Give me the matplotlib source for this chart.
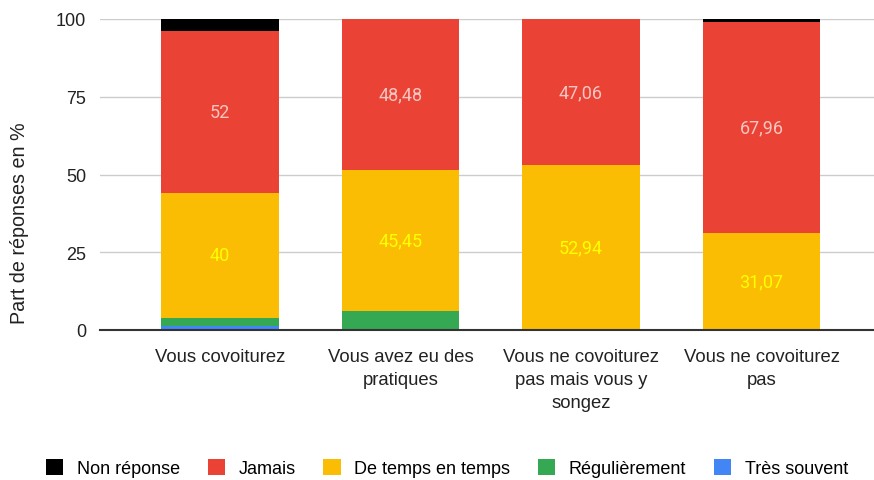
import matplotlib
matplotlib.use("Agg")
import matplotlib.pyplot as plt
from matplotlib.patches import Patch
import numpy as np

categories = ["Vous covoiturez", "Vous avez eu des\npratiques",
              "Vous ne covoiturez\npas mais vous y\nsongez", "Vous ne covoiturez\npas"]
series_names = ["Très souvent", "Régulièrement", "De temps en temps", "Jamais", "Non réponse"]
tres_souvent = [1.33, 0, 0, 0]
regulierement = [2.67, 6.06, 0, 0]
de_temps = [40, 45.45, 52.94, 31.07]
jamais = [52, 48.48, 47.06, 67.96]
non_reponse = [4, 0, 0, 0.97]
yticks = [0, 25, 50, 75, 100]

colors = ["#4285f4", "#34a853", "#fbbc04", "#ea4335", "#000000"]
label_colors = {2: "#ffff00", 3: "#f7c6c2"}
series = [tres_souvent, regulierement, de_temps, jamais, non_reponse]

fig = plt.figure(figsize=(8.74, 4.81), dpi=100)
W, H = 874, 481
ax = fig.add_axes([100 / W, (H - 331) / H, 774 / W, 311 / H])

x = np.arange(len(categories))
bottom = np.zeros(len(categories))
for i, (vals, c) in enumerate(zip(series, colors)):
    vals = np.array(vals, dtype=float)
    ax.bar(x, vals, bottom=bottom, width=0.65, color=c, zorder=3)
    if i in label_colors:
        for xi, b, v in zip(x, bottom, vals):
            if v > 0:
                ax.text(xi, b + v / 2, f"{v:g}".replace(".", ","), ha="center", va="center",
                        color=label_colors[i], fontsize=13, family="Roboto", zorder=4)
    bottom += vals

ax.set_xlim(-0.665, 3.623)
ax.set_ylim(0, 100)
ax.set_yticks(yticks)
ax.set_yticklabels([str(t) for t in yticks], fontsize=13, family="Liberation Sans", color="#222222")
ax.set_xticks(x)
ax.set_xticklabels(categories, fontsize=13.3, family="Liberation Sans", color="#222222", linespacing=1.45)
ax.tick_params(axis="both", length=0)
ax.tick_params(axis="y", pad=10)
ax.tick_params(axis="x", pad=13)
for s in ["top", "right", "left"]:
    ax.spines[s].set_visible(False)
ax.spines["bottom"].set_color("#333333")
ax.spines["bottom"].set_linewidth(1.5)
ax.spines["bottom"].set_zorder(5)
ax.yaxis.grid(True, color="#cccccc", linewidth=1, zorder=0)
ax.set_axisbelow(True)

fig.text(20 / W, (H - 223) / H, "Part de réponses en %", rotation=90, ha="center", va="center",
         fontsize=14.2, family="Liberation Sans", color="#222222")

handles = [Patch(facecolor=c, edgecolor="none") for c in colors[::-1]]
fig.legend(handles, series_names[::-1], loc="center", bbox_to_anchor=(447 / W, (H - 469) / H),
           ncol=5, frameon=False, prop={"family": "Liberation Sans", "size": 13},
           handlelength=0.95, handleheight=0.95, handletextpad=0.75, columnspacing=1.55)

fig.savefig("out.png", dpi=100)
